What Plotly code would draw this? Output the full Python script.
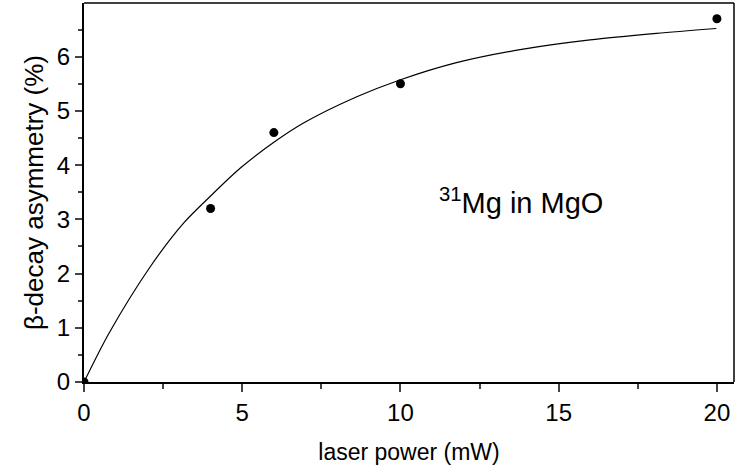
import plotly.graph_objects as go

# measured points
power_mw = [0, 4, 6, 10, 20]
asymmetry_pct = [0.0, 3.2, 4.6, 5.5, 6.7]

# fitted curve
fit_x = [0.0, 0.79, 2.11, 3.16, 4.0, 4.95, 6.0, 6.95, 8.62, 9.98, 11.77, 13.88, 15.99, 18.09, 19.98]
fit_y = [0.0, 0.90, 2.14, 2.94, 3.43, 3.95, 4.42, 4.78, 5.26, 5.57, 5.89, 6.14, 6.31, 6.43, 6.52]

x_ticks = [0, 5, 10, 15, 20]
y_ticks = [0, 1, 2, 3, 4, 5, 6]

FONT = "Arial"

fig = go.Figure()
fig.add_trace(go.Scatter(x=fit_x, y=fit_y, mode="lines",
                         line=dict(color="black", width=1.2, shape="spline", smoothing=0.8),
                         showlegend=False, hoverinfo="skip"))
fig.add_trace(go.Scatter(x=power_mw, y=asymmetry_pct, mode="markers",
                         marker=dict(color="black", size=9), showlegend=False))

fig.update_layout(
    width=736, height=470,
    margin=dict(l=84, r=2, t=3, b=88, autoexpand=False),
    paper_bgcolor="white", plot_bgcolor="white",
    font=dict(family=FONT, size=24, color="black"),
    xaxis=dict(range=[0, 20.54], tickvals=x_ticks, ticks="outside", ticklen=8, tickwidth=1.5,
               showgrid=False, zeroline=False, showline=True, linewidth=2, linecolor="black",
               minor=dict(dtick=2.5, ticks="outside", ticklen=5, tickwidth=1.5, showgrid=False),
               title=dict(text="laser power (mW)", standoff=19, font=dict(size=23)),
               tickfont=dict(size=24), automargin=False),
    yaxis=dict(range=[0, 6.99], tickvals=y_ticks, ticks="outside", ticklen=7, tickwidth=1.5,
               showgrid=False, zeroline=False, showline=True, linewidth=2, linecolor="black",
               minor=dict(dtick=0.5, ticks="outside", ticklen=4, tickwidth=1.5, showgrid=False),
               title=dict(text="β-decay asymmetry (%)", standoff=6, font=dict(size=26)),
               tickfont=dict(size=24), automargin=False),
    shapes=[
        dict(type="line", xref="paper", yref="paper", x0=0, x1=1, y0=1, y1=1, line=dict(color="black", width=1.3)),
        dict(type="line", xref="paper", yref="paper", x0=1, x1=1, y0=0, y1=1, line=dict(color="black", width=1.5)),
    ],
    annotations=[dict(x=11.15, y=3.34, xref="x", yref="y", xanchor="left", yanchor="middle",
                      text="<sup>31</sup>Mg in MgO", showarrow=False, font=dict(size=29))],
)

fig.write_html("out.html", config={"displayModeBar": False},
               post_script="document.body.style.margin='0';")
